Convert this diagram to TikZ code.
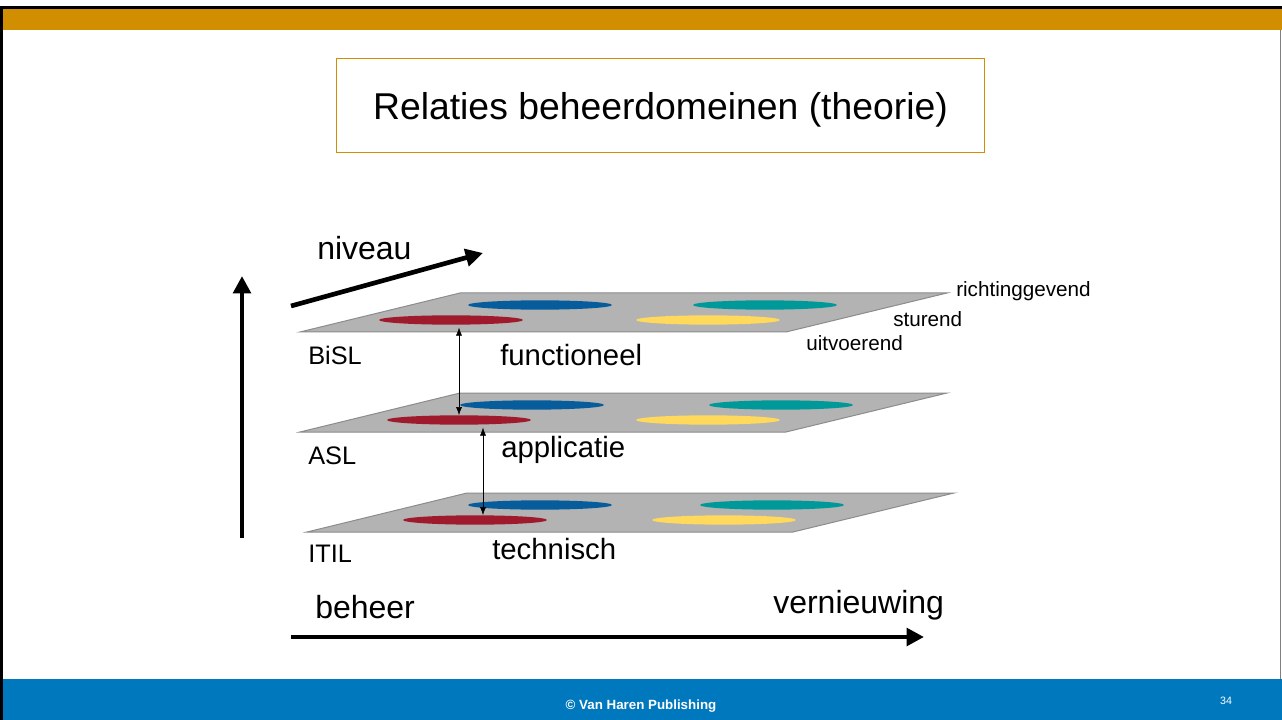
\documentclass[tikz,border=0pt]{standalone}
\usepackage{fontspec}
\setmainfont{Liberation Sans}
\usetikzlibrary{shapes.geometric, arrows, arrows.meta, positioning, calc}
\definecolor{bandorange}{HTML}{D18E00}
\definecolor{bandblue}{HTML}{0078BE}
\definecolor{planegray}{HTML}{B3B3B3}
\definecolor{planeline}{HTML}{8C8C8C}
\definecolor{discred}{HTML}{9E1A2C}
\definecolor{discblue}{HTML}{075C9C}
\definecolor{discteal}{HTML}{00999A}
\definecolor{discyellow}{HTML}{FFD95C}
\tikzstyle{layer} = [fill=planegray, draw=planeline, line width=0.75pt]
\tikzstyle{disc} = [ellipse, minimum width=108pt, minimum height=7pt, inner sep=0pt]
\tikzstyle{link} = [thin, {Latex[length=6pt,width=4.5pt]}-{Latex[length=6pt,width=4.5pt]}]
\tikzstyle{axis} = [line width=3.5pt, -{Triangle[length=13pt,width=13pt]}]
\tikzstyle{lbl} = [anchor=west, inner sep=0pt]
\tikzstyle{big} = [lbl, font=\fontsize{24}{28}\selectfont]
\tikzstyle{mid} = [lbl, font=\fontsize{22}{26}\selectfont]
\tikzstyle{tool} = [lbl, font=\fontsize{19}{23}\selectfont]
\tikzstyle{small} = [lbl, font=\fontsize{15.5}{18}\selectfont]

\begin{document}
\begin{tikzpicture}[x=0.75pt, y=-0.75pt]

% slide frame
\fill[white] (0,0) rectangle (1282,720);
\useasboundingbox (0,0) rectangle (1282,720);
\fill[black] (0,6) rectangle (1282,9);
\fill[bandorange] (3,9) rectangle (1282,30);
\fill[bandblue] (0,679) rectangle (1282,720);
\fill[black] (0,6) rectangle (3,720);
\draw[gray, line width=0.75pt] (1280,30) -- (1280,679);

\node (title) [draw=bandorange, line width=0.75pt, minimum width=486pt, minimum height=70pt, text depth=0pt, font=\fontsize{28}{34}\selectfont] at (660.5,105.5) {Relaties beheerdomeinen (theorie)};

% layers
\draw[layer] (300,332) -- (786,332) -- (947,293) -- (460,293) -- cycle;
\draw[layer] (300,432) -- (786,432) -- (947,393) -- (460,393) -- cycle;
\draw[layer] (307,532) -- (793,532) -- (954,493) -- (467,493) -- cycle;

\node (r1) [disc, fill=discred] at (451,320) {};
\node (b1) [disc, fill=discblue] at (540,305) {};
\node (t1) [disc, fill=discteal] at (765,305) {};
\node (y1) [disc, fill=discyellow] at (708,320) {};

\node (r2) [disc, fill=discred] at (459,420) {};
\node (b2) [disc, fill=discblue] at (532,405) {};
\node (t2) [disc, fill=discteal] at (781,405) {};
\node (y2) [disc, fill=discyellow] at (708,420) {};

\node (r3) [disc, fill=discred] at (475,520) {};
\node (b3) [disc, fill=discblue] at (540,505) {};
\node (t3) [disc, fill=discteal] at (772,505) {};
\node (y3) [disc, fill=discyellow] at (724,520) {};

\draw[link] ([xshift=6pt,yshift=-2pt]r1.south) -- (r2.north);
\draw[link] ([xshift=18pt,yshift=-2pt]r2.south) -- ([xshift=6pt]r3.north);

% labels
\node (bisl) [tool] at (308,355) {BiSL};
\node (asl) [tool] at (308,456) {ASL};
\node (itil) [tool] at (308,554) {ITIL};
\node (func) [mid] at (500,355) {functioneel};
\node (appl) [mid] at (501,450) {applicatie};
\node (tech) [mid] at (492,549) {technisch};
\node (rich) [small] at (956,291) {richtinggevend};
\node (stur) [small] at (893,319) {sturend};
\node (uitv) [small] at (806,343) {uitvoerend};

% axes
\coordinate (vbot) at (242,538);
\coordinate (vtop) at (242,276);
\coordinate (nstart) at (291,306);
\coordinate (nend) at (483,253);
\coordinate (hstart) at (291,637);
\coordinate (hend) at (924,637);
\draw[axis] (vbot) -- (vtop);
\draw[axis] (nstart) -- (nend);
\draw[axis] (hstart) -- (hend);
\node (niveau) [big] at (317,248) {niveau};
\node (beheer) [big] at (315,607) {beheer};
\node (vern) [big] at (773,605) {vernieuwing};

% footer
\node (copy) [text=white, font=\fontsize{10}{12}\selectfont\bfseries] at (641,706) {© Van Haren Publishing};
\node (page) [text=white, font=\fontsize{8}{10}\selectfont] at (1226,701) {34};

\end{tikzpicture}
\end{document}
